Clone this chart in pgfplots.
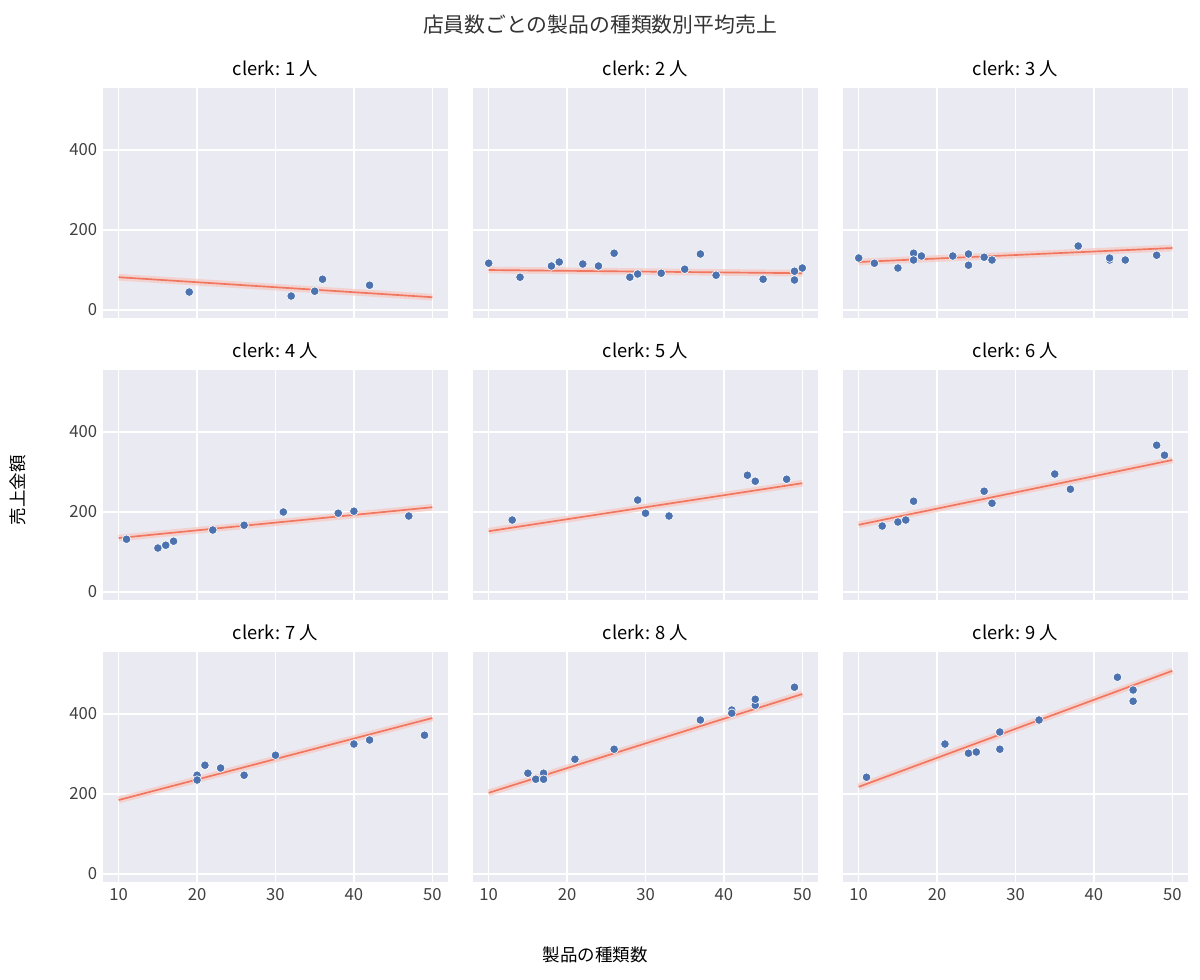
\documentclass[border=0pt]{standalone}
\usepackage{pgfplots}
\pgfplotsset{compat=1.18}
\usepackage{fontspec}
\setmainfont{Noto Sans CJK JP}
\definecolor{bg}{HTML}{EAEAF2}
\definecolor{pt}{HTML}{4C72B0}
\definecolor{ln}{HTML}{F0765F}
\pgfplotsset{panel/.style={
  scale only axis, width=207pt, height=138pt, anchor=north west,
  xmin=8, xmax=52, ymin=-20, ymax=555,
  axis background/.style={fill=bg}, axis line style={draw=none},
  major tick length=0pt, grid=major, grid style={white, line width=0.9pt},
  xtick={10,20,30,40,50}, ytick={0,200,400},
  tick label style={font=\fontsize{10}{12}\selectfont, text=black!75},
  /pgf/number format/assume math mode=true,
  title style={font=\fontsize{11}{13}\selectfont, yshift=-3pt},
}}
\newcommand\panel[8]{%
\begin{axis}[panel, at={(#1*0.6pt,-#2*0.6pt)}, title={clerk: #3 人}, #7, #8]
\addplot[ln!45, opacity=0.6, line width=4pt] coordinates {(10,#5) (50,#6)};
\addplot[ln, line width=1pt] coordinates {(10,#5) (50,#6)};
\addplot[only marks, mark=*, mark size=2.6pt, mark options={fill=pt, draw=white, line width=0.4pt}] coordinates {#4};
\end{axis}}
\begin{document}
\begin{tikzpicture}
\path (0,0) rectangle (720pt,-587.4pt);
\node[font=\fontsize{12.5}{15}\selectfont, text=black!80] at (360pt,-15pt) {店員数ごとの製品の種類数別平均売上};
\node[rotate=90, font=\fontsize{10.5}{12}\selectfont] at (11pt,-294pt) {売上金額};
\node[font=\fontsize{10.5}{12}\selectfont] at (357pt,-573pt) {製品の種類数};
\panel{103}{88}{1}{(19,45)(32,35)(35,47)(36,77)(42,62)}{82}{32}{xticklabels={}}{}
\panel{473}{88}{2}{(10,117)(14,82)(18,110)(19,120)(22,115)(24,110)(26,142)(28,82)(29,90)(32,92)(35,102)(37,140)(39,87)(45,77)(49,97)(49,75)(50,105)}{100}{92}{xticklabels={}}{yticklabels={}}
\panel{843}{88}{3}{(10,130)(12,117)(15,105)(17,142)(17,125)(18,135)(22,135)(24,140)(24,112)(26,132)(27,125)(38,160)(42,125)(42,130)(44,125)(48,137)}{120}{155}{xticklabels={}}{yticklabels={}}
\panel{103}{370}{4}{(11,132)(15,110)(16,117)(17,127)(22,155)(26,167)(31,200)(38,197)(40,202)(47,190)}{135}{212}{xticklabels={}}{}
\panel{473}{370}{5}{(13,180)(29,230)(30,197)(33,190)(43,292)(44,277)(48,282)}{152}{272}{xticklabels={}}{yticklabels={}}
\panel{843}{370}{6}{(13,165)(15,175)(16,180)(17,227)(26,252)(27,222)(35,295)(37,257)(48,367)(49,342)}{168}{330}{xticklabels={}}{yticklabels={}}
\panel{103}{652}{7}{(20,247)(20,235)(21,272)(23,265)(26,247)(30,297)(40,325)(42,335)(49,347)}{185}{390}{}{}
\panel{473}{652}{8}{(15,252)(16,237)(17,252)(17,237)(21,287)(26,312)(37,385)(41,410)(41,402)(44,422)(44,437)(49,467)}{203}{450}{}{yticklabels={}}
\panel{843}{652}{9}{(11,242)(21,325)(24,302)(25,305)(28,355)(28,312)(33,385)(43,492)(45,460)(45,432)}{218}{508}{}{yticklabels={}}
\end{tikzpicture}
\end{document}
